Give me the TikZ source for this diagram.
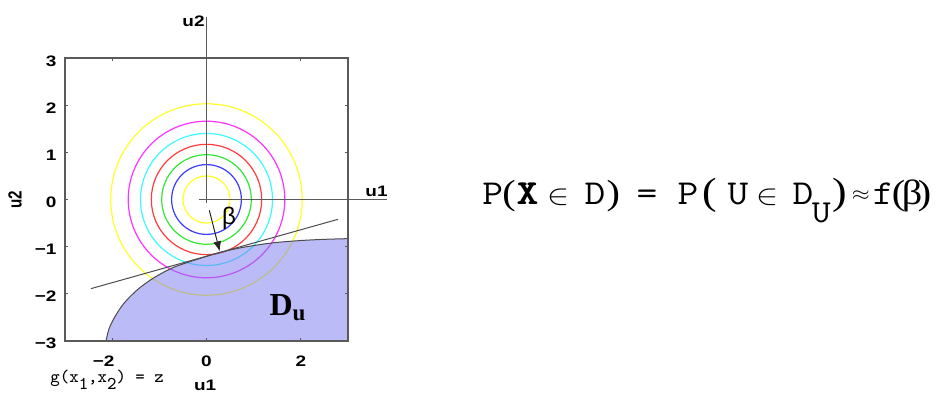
\documentclass[tikz,border=0pt]{standalone}
\usepackage{fontspec}
\setmainfont{Liberation Sans}
\newfontfamily\symfont{Liberation Serif}
\usetikzlibrary{arrows.meta}
\definecolor{ringyellow}{RGB}{255,255,40}
\definecolor{ringmagenta}{RGB}{255,50,255}
\definecolor{ringcyan}{RGB}{60,250,255}
\definecolor{ringred}{RGB}{255,60,60}
\definecolor{ringgreen}{RGB}{50,230,50}
\definecolor{ringblue}{RGB}{60,60,255}
\definecolor{regionblue}{RGB}{120,120,240}
\definecolor{framegray}{RGB}{90,90,90}
% one glyph of the probability formula in a box of fixed width
\newcommand{\eqcell}[2]{\makebox[#1pt][l]{#2}}

\begin{document}
\begin{tikzpicture}[x=0.5pt, y=0.5pt,
    ring/.style={line width=0.6pt},
    frame/.style={draw=framegray, line width=0.6pt},
    axisline/.style={draw=framegray, line width=0.8pt},
    ticklab/.style={font=\bfseries\fontsize{7.6pt}{8pt}\selectfont, inner sep=0pt, xscale=1.25},
    arr/.style={-{Latex[length=5pt,width=4pt]}, black!85, line width=0.5pt},
  ]
  \useasboundingbox (0,0) rectangle (942,395);
  \begin{scope}[shift={(206.5,195.5)}, x=23.58pt, y=23.58pt]
    % contours of the standard normal density
    \draw[ring, ringyellow] (0,0) circle (0.5);
    \draw[ring, ringblue] (0,0) circle (0.74);
    \draw[ring, ringgreen] (0,0) circle (0.95);
    \draw[ring, ringred] (0,0) circle (1.17);
    \draw[ring, ringcyan] (0,0) circle (1.4);
    \draw[ring, ringmagenta] (0,0) circle (1.66);
    \draw[ring, ringyellow] (0,0) circle (2.03);
    % failure domain
    \filldraw[fill=regionblue, fill opacity=0.5, draw=black!70, line width=0.5pt]
      plot[smooth] coordinates {(-2.13,-3) (-2.07,-2.75) (-1.95,-2.5) (-1.75,-2.2)
        (-1.45,-1.9) (-1.1,-1.65) (-0.7,-1.44) (-0.25,-1.285) (0.28,-1.124)
        (0.8,-1.01) (1.4,-0.92) (2.0,-0.87) (2.5,-0.845) (3,-0.83)}
      -- (3,-3) -- cycle;
    \node[font=\symfont\bfseries\fontsize{16pt}{16pt}\selectfont, anchor=base west, inner sep=0pt]
      (du) at (1.33,-2.45) {D\raisebox{-2.5pt}{\fontsize{11.5pt}{12pt}\selectfont u}};
    % tangent plane and design point
    \coordinate (tl) at (-2.45,-1.89);
    \coordinate (tr) at (2.79,-0.42);
    \draw[black!70, line width=0.5pt] (tl) -- (tr);
    \coordinate (o) at (0.06,-0.23);
    \coordinate (dp) at (0.28,-1.1);
    \draw[arr] (o) -- (dp);
    \node[font=\fontsize{12pt}{12pt}\selectfont, inner sep=0pt] (beta) at (0.48,-0.40) {β};
    % frame and ticks
    \draw[frame] (-3,-3) rectangle (3,3);
    \foreach \y in {-3,...,3} {
      \draw[frame] (-3,\y) -- ++(0.07,0);
      \draw[frame] (3,\y) -- ++(-0.07,0);
    }
    \foreach \x in {-2,0,2} {
      \draw[frame] (\x,-3) -- ++(0,0.07);
      \draw[frame] (\x,3) -- ++(0,-0.07);
    }
    \foreach \y/\lab in {3/3,2/2,1/1,0/0,-1/−1,-2/−2,-3/−3}
      \node[ticklab, anchor=base east] (ylab\y) at (-3.17,\y-0.17) {\lab};
    \node[ticklab, anchor=base] (xlabm2) at (-2.18,-3.55) {−2};
    \node[ticklab, anchor=base] (xlab0) at (0,-3.55) {0};
    \node[ticklab, anchor=base] (xlab2) at (2,-3.55) {2};
    \node[ticklab, anchor=base] (xname) at (-0.03,-4.04) {u1};
    \node[ticklab, anchor=base, rotate=90] (yname) at (-3.92,0) {u2};
    % standard normal axes
    \draw[axisline] (0,3.875) -- (0,-0.08);
    \draw[axisline] (-0.16,0) -- (3.83,0);
    \node[ticklab, anchor=base east] (u2) at (-0.03,3.66) {u2};
    \node[ticklab, anchor=base east] (u1) at (3.85,0.06) {u1};
  \end{scope}
  \node[font=\ttfamily\fontsize{9pt}{9pt}\selectfont, anchor=base west, inner sep=0pt]
    (limit) at (50,12) {g(x\raisebox{-3.5pt}{1},x\raisebox{-3.5pt}{2}) = z};
  \node[font=\ttfamily\fontsize{17.5pt}{20pt}\selectfont, anchor=base west, inner sep=0pt, xscale=1.15]
    (prob) at (482,190) {\eqcell{8.7}{P}\eqcell{6.1}{\symfont(}\eqcell{13.5}{\bfseries\rlap{X}\kern0.4pt X}%
      \eqcell{16.1}{\fontsize{14pt}{14pt}\selectfont$\in$}\eqcell{9.6}{D}\eqcell{13.0}{\symfont)}%
      \eqcell{17.8}{=}\eqcell{10.9}{P}\eqcell{10.9}{\symfont\fontsize{19pt}{19pt}\selectfont(}%
      \eqcell{12.6}{U}\eqcell{15.7}{\fontsize{14pt}{14pt}\selectfont$\in$}\eqcell{8.3}{D}%
      \eqcell{9.1}{\raisebox{-9pt}{\fontsize{16pt}{16pt}\selectfont U}}%
      \eqcell{8.3}{\symfont\fontsize{19pt}{19pt}\selectfont)}%
      \eqcell{9.1}{\raisebox{2pt}{\fontsize{10pt}{10pt}\selectfont$\approx$}}%
      \eqcell{8.3}{f}\eqcell{4.35}{\symfont(}\eqcell{7.0}{\symfont β}{\symfont)}};
\end{tikzpicture}
\end{document}
